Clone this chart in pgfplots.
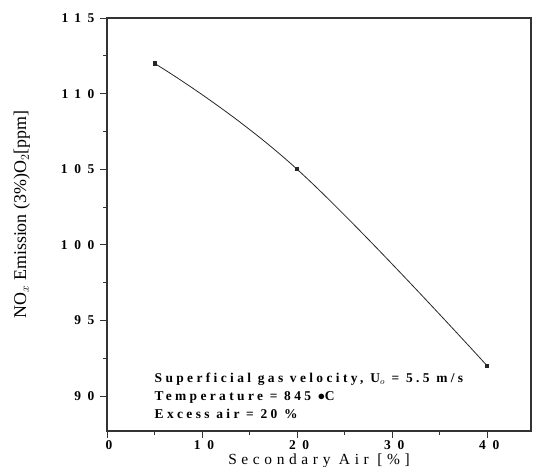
\documentclass[border=0pt]{standalone}
\usepackage{fontspec}
\setmainfont{Liberation Serif}
\newfontfamily\spaced[LetterSpace=30]{Liberation Serif}
\newfontfamily\spacedann[LetterSpace=25]{Liberation Serif Bold}
\newfontfamily\spacedb[LetterSpace=50]{Liberation Serif Bold}
\usepackage{pgfplots}
\pgfplotsset{compat=1.18}
\begin{document}
\begin{tikzpicture}
\begin{axis}[
  scale only axis,
  width=424bp, height=413bp,
  xmin=0, xmax=44.6, ymin=87.7, ymax=115,
  xtick={0,10,20,30,40}, minor xtick={5,15,25,35},
  ytick={90,95,100,105,110,115}, minor ytick={92.5,97.5,102.5,107.5,112.5},
  xtick pos=bottom, ytick pos=left,
  tick align=outside,
  major tick length=7bp, minor tick length=4bp,
  axis line style={line width=1.4pt, black!80},
  every tick/.style={black!80, line width=0.9pt},
  /pgf/number format/assume math mode=true,
  ticklabel style={font=\spacedb\fontsize{13.5}{15}\selectfont},
  xticklabel style={yshift=1bp, xshift=2bp},
  yticklabel style={xshift=-2bp},
  xlabel={\spaced\fontsize{15.5}{17}\selectfont Secondary Air [\%]},
  xlabel style={yshift=3bp},
  ylabel={\fontsize{18}{20}\selectfont NO$_x$ Emission (3\%)O$_2$[ppm]},
  ylabel style={yshift=24bp, xshift=10bp},
]
\addplot[black!85, line width=0.8pt, smooth, tension=0.7, mark=square*, mark size=1.6pt,
  mark options={fill=black!85}] coordinates {(5,112) (20,105) (40,92)};
\node[anchor=west, inner sep=0pt, font=\spacedann\fontsize{13.5}{15}\selectfont] at (axis cs:5,91.13) {Superficial gas velocity, U$_o$ = 5.5 m/s};
\node[anchor=west, inner sep=0pt, font=\spacedann\fontsize{13.5}{15}\selectfont] at (axis cs:5,89.93) {Temperature = 845 $\bullet$C};
\node[anchor=west, inner sep=0pt, font=\spacedann\fontsize{13.5}{15}\selectfont] at (axis cs:5,88.8) {Excess air = 20 \%};
\end{axis}
\pgfresetboundingbox
\path ([shift={(-107bp,-36bp)}]current axis.south west) rectangle ([shift={(9bp,18bp)}]current axis.north east);
\end{tikzpicture}
\end{document}
